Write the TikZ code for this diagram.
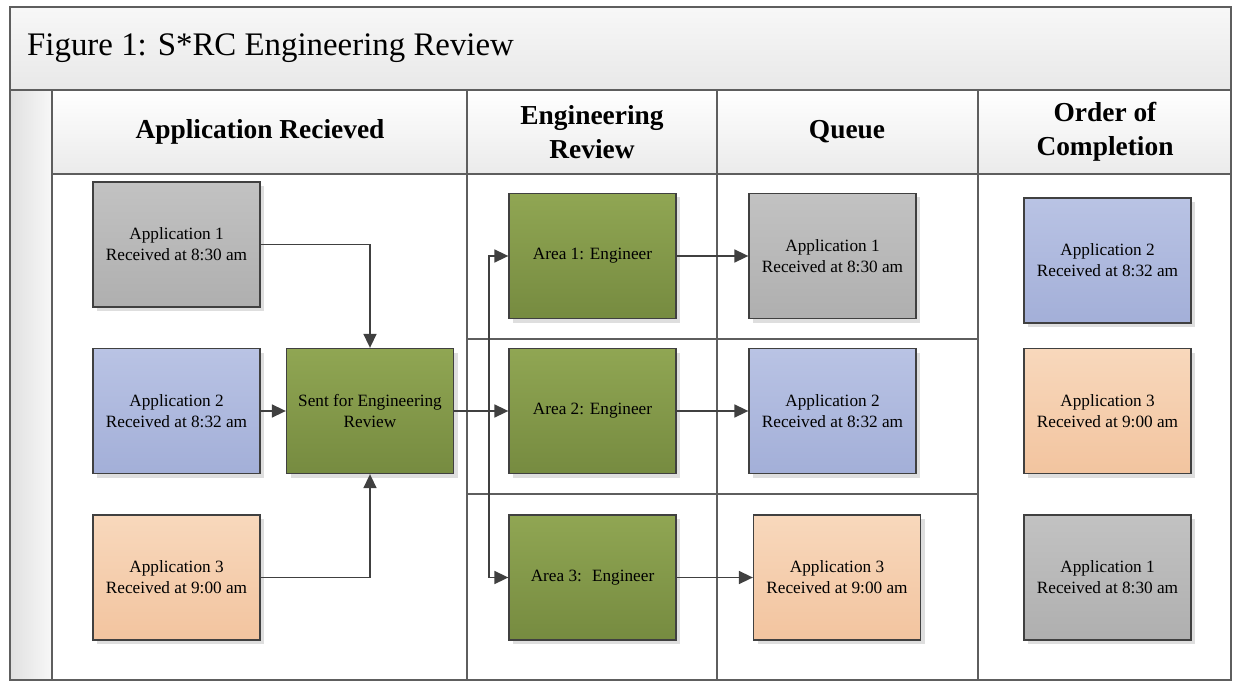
\documentclass[tikz,border=0pt]{standalone}
\usepackage{fontspec}
\setmainfont{Liberation Serif}
\usetikzlibrary{arrows.meta,shadows}
\definecolor{frame}{HTML}{5E5E5E}
\definecolor{edge}{HTML}{404040}
\definecolor{greyT}{HTML}{C2C2C2}
\definecolor{greyB}{HTML}{AFAFAF}
\definecolor{blueT}{HTML}{B9C3E4}
\definecolor{blueB}{HTML}{A3AFD8}
\definecolor{orangeT}{HTML}{F8D8BC}
\definecolor{orangeB}{HTML}{F2C49F}
\definecolor{greenT}{HTML}{90A653}
\definecolor{greenB}{HTML}{768B40}
\begin{document}
\begin{tikzpicture}[x=1bp,y=-1bp,
  box/.style={draw=edge, line width=1.3bp, minimum width=167bp, minimum height=125bp,
    inner sep=0pt, align=center, font=\fontsize{17.3}{21}\selectfont,
    drop shadow={shadow xshift=4bp, shadow yshift=-4bp, fill=black!13, opacity=1}},
  greybox/.style={box, top color=greyT, bottom color=greyB},
  bluebox/.style={box, top color=blueT, bottom color=blueB},
  orangebox/.style={box, top color=orangeT, bottom color=orangeB},
  greenbox/.style={box, top color=greenT, bottom color=greenB},
  conn/.style={draw=edge, line width=1.6bp, -{Triangle[length=14bp,width=13bp]}},
  rule/.style={draw=frame, line width=1.3bp},
  hdr/.style={font=\fontsize{27.5}{34}\selectfont\bfseries, align=center, inner sep=0pt}
]
\useasboundingbox (0,0) rectangle (1233,681);
\fill[white] (0,0) rectangle (1233,681);
% title band
\shade[top color=white!97!black, bottom color=white!91!black] (10,7) rectangle (1231,90);
% left strip
\shade[left color=white!88!black, right color=white!97!black] (10,90) rectangle (52,681);
% header cells
\foreach \a/\b in {52/467,467/717,717/978,978/1231}
  \shade[top color=white, bottom color=white!92!black] (\a,90) rectangle (\b,174);
% grid lines
\draw[rule] (10,7) rectangle (1231,680);
\draw[rule] (10,90) -- (1231,90);
\draw[rule] (52,174) -- (1231,174);
\draw[rule] (52,90) -- (52,680);
\foreach \x in {467,717,978} \draw[rule] (\x,90) -- (\x,680);
\draw[rule] (467,339) -- (978,339);
\draw[rule] (467,494) -- (978,494);

% texts
\node[anchor=west, font=\fontsize{33}{40}\selectfont, inner sep=0pt] (title) at (27,48) {Figure 1: S*RC Engineering Review};
\node[hdr] (h1) at (260,132) {Application Recieved};
\node[hdr] (h2) at (592,132) {Engineering\\Review};
\node[hdr] (h3) at (847,132) {Queue};
\node[hdr] (h4) at (1105,132) {Order of\\Completion};

% boxes
\node[greybox] (a1) at (176.5,244.5) {Application 1\\Received at 8:30 am};
\node[bluebox] (a2) at (176.5,411) {Application 2\\Received at 8:32 am};
\node[orangebox] (a3) at (176.5,577.5) {Application 3\\Received at 9:00 am};
\node[greenbox] (sent) at (370,411) {Sent for Engineering\\Review};
\node[greenbox] (e1) at (592.5,256) {Area 1: Engineer};
\node[greenbox] (e2) at (592.5,411) {Area 2: Engineer};
\node[greenbox] (e3) at (592.5,577.5) {Area 3:~ Engineer};
\node[greybox] (q1) at (832.5,256) {Application 1\\Received at 8:30 am};
\node[bluebox] (q2) at (832.5,411) {Application 2\\Received at 8:32 am};
\node[orangebox] (q3) at (837,577.5) {Application 3\\Received at 9:00 am};
\node[bluebox] (c1) at (1107.5,260.5) {Application 2\\Received at 8:32 am};
\node[orangebox] (c2) at (1107.5,411) {Application 3\\Received at 9:00 am};
\node[greybox] (c3) at (1107.5,577.5) {Application 1\\Received at 8:30 am};

% connectors
\draw[conn] (a1.east) -| (sent.north);
\draw[conn] (a2.east) -- (sent.west);
\draw[conn] (a3.east) -| (sent.south);
\coordinate (split) at (489,411);
\draw[conn] (sent.east) -- (e2.west);
\draw[conn] (split) |- (e1.west);
\draw[conn] (split) |- (e3.west);
\draw[conn] (e1.east) -- (q1.west);
\draw[conn] (e2.east) -- (q2.west);
\draw[conn] (e3.east) -- (q3.west);
\end{tikzpicture}
\end{document}
